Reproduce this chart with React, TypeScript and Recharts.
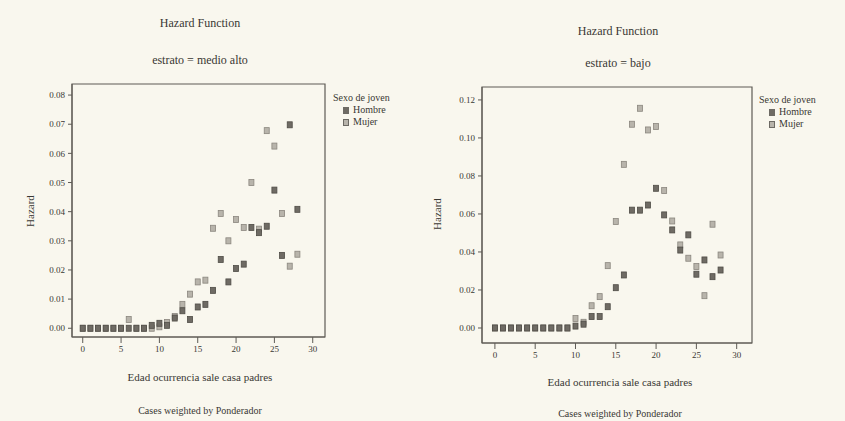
import React from "react";
import { ReferenceArea, Scatter, ScatterChart, XAxis, YAxis } from "recharts";

// Edad ocurrencia sale casa padres (x)
const AGES = [
  0, 1, 2, 3, 4, 5, 6, 7, 8, 9, 10, 11, 12, 13, 14, 15, 16, 17, 18, 19, 20,
  21, 22, 23, 24, 25, 26, 27, 28,
];
const X_TICKS = [0, 5, 10, 15, 20, 25, 30];

// estrato = medio alto
const MEDIO_ALTO_HOMBRE = [
  0, 0, 0, 0, 0, 0, 0, 0, 0, 0.001, 0.0017, 0.001, 0.0035, 0.006, 0.003,
  0.0073, 0.0082, 0.013, 0.0236, 0.0159, 0.0205, 0.022, 0.0346, 0.0328, 0.035,
  0.0474, 0.025, 0.0698, 0.0408,
];
const MEDIO_ALTO_MUJER = [
  0, 0, 0, 0, 0, 0, 0.003, 0, 0, 0, 0.0005, 0.002, 0.004, 0.0082, 0.0117,
  0.0159, 0.0165, 0.0343, 0.0394, 0.03, 0.0373, 0.0346, 0.05, 0.034, 0.0678,
  0.0625, 0.0394, 0.0213, 0.0254,
];
const MEDIO_ALTO_Y_TICKS = [0, 0.01, 0.02, 0.03, 0.04, 0.05, 0.06, 0.07, 0.08];

// estrato = bajo
const BAJO_HOMBRE = [
  0, 0, 0, 0, 0, 0, 0, 0, 0, 0, 0.001, 0.002, 0.006, 0.006, 0.0112, 0.0212,
  0.0279, 0.062, 0.062, 0.0647, 0.0735, 0.0595, 0.0516, 0.041, 0.049, 0.0283,
  0.0358, 0.027, 0.0305,
];
const BAJO_MUJER = [
  0, 0, 0, 0, 0, 0, 0, 0, 0, 0, 0.005, 0.003, 0.0117, 0.0165, 0.0328, 0.056,
  0.0861, 0.1072, 0.1156, 0.1042, 0.106, 0.0723, 0.0563, 0.0437, 0.0367,
  0.0323, 0.017, 0.0546, 0.0384,
];
const BAJO_Y_TICKS = [0, 0.02, 0.04, 0.06, 0.08, 0.1, 0.12];

const FONT = '"Liberation Serif", "DejaVu Serif", serif';
const INK = "#3a3834";
const PAPER = "#f9f7ee";
const HOMBRE_FILL = "#6f6b64";
const MUJER_FILL = "#b8b4ab";

function rows(values: number[]) {
  return AGES.map((age, i) => ({ age, hazard: values[i] }));
}

/** Small square marker, like the scanned SPSS output. */
function makeSquare(fill: string, stroke: string) {
  return function Square(props: { cx?: number; cy?: number }) {
    const { cx = 0, cy = 0 } = props;
    return (
      <rect x={cx - 2.5} y={cy - 3} width={5} height={6} fill={fill} stroke={stroke} strokeWidth={0.8} />
    );
  };
}

/** Legend block: "Sexo de joven" with the two marker styles. */
function SexoLegend(props: { left: number; top: number }) {
  const item = (label: string, fill: string) => (
    <div style={{ display: "flex", alignItems: "center", marginLeft: 10, height: 12 }}>
      <span
        style={{
          width: 4,
          height: 5,
          background: fill,
          border: "1px solid #6d6a64",
          marginRight: 4,
        }}
      />
      {label}
    </div>
  );
  return (
    <div
      style={{
        position: "absolute",
        left: props.left,
        top: props.top,
        fontFamily: FONT,
        fontSize: 10,
        color: INK,
        lineHeight: "12px",
        whiteSpace: "nowrap",
      }}
    >
      <div>Sexo de joven</div>
      {item("Hombre", HOMBRE_FILL)}
      {item("Mujer", MUJER_FILL)}
    </div>
  );
}

interface PanelProps {
  left: number;
  width: number;
  margin: { top: number; right: number; bottom: number; left: number };
  xDomain: [number, number];
  yDomain: [number, number];
  yTicks: number[];
  hombre: number[];
  mujer: number[];
}

function HazardPanel(p: PanelProps) {
  const tickStyle = { fontSize: 9, fill: INK, fontFamily: FONT };
  const HombreSquare = makeSquare(HOMBRE_FILL, "#4f4c46");
  const MujerSquare = makeSquare(MUJER_FILL, "#8a867e");
  return (
    <div style={{ position: "absolute", left: p.left, top: 0 }}>
      <ScatterChart width={p.width} height={421} margin={p.margin}>
        <XAxis
          type="number"
          dataKey="age"
          domain={p.xDomain}
          ticks={X_TICKS}
          allowDataOverflow
          height={20}
          tickSize={6}
          tickMargin={3}
          tick={tickStyle}
          stroke="#5e5b55"
        />
        <YAxis
          type="number"
          dataKey="hazard"
          domain={p.yDomain}
          ticks={p.yTicks}
          allowDataOverflow
          width={50}
          tickSize={4}
          tickMargin={3}
          tick={tickStyle}
          tickFormatter={(v: number) => v.toFixed(2)}
          stroke="#5e5b55"
        />
        <ReferenceArea
          x1={p.xDomain[0]}
          x2={p.xDomain[1]}
          y1={p.yDomain[0]}
          y2={p.yDomain[1]}
          fill="none"
          stroke="#5e5b55"
          strokeWidth={1.2}
        />
        <Scatter
          name="Mujer"
          data={rows(p.mujer)}
          shape={<MujerSquare />}
          fill={MUJER_FILL}
          isAnimationActive={false}
        />
        <Scatter
          name="Hombre"
          data={rows(p.hombre)}
          shape={<HombreSquare />}
          fill={HOMBRE_FILL}
          isAnimationActive={false}
        />
      </ScatterChart>
    </div>
  );
}

function Label(props: { x: number; y: number; text: string; size?: number; rotate?: boolean }) {
  return (
    <div
      style={{
        position: "absolute",
        left: props.x,
        top: props.y,
        transform: `translate(-50%, -50%)${props.rotate ? " rotate(-90deg)" : ""}`,
        whiteSpace: "nowrap",
        fontFamily: FONT,
        fontSize: props.size ?? 11,
        color: INK,
      }}
    >
      {props.text}
    </div>
  );
}

export default function App() {
  return (
    <div
      style={{
        position: "absolute",
        left: 0,
        top: 0,
        width: 845,
        height: 421,
        background: PAPER,
        overflow: "hidden",
      }}
    >
      <HazardPanel
        left={0}
        width={420}
        margin={{ top: 84, right: 95, bottom: 64, left: 22 }}
        xDomain={[-1.4, 31.6]}
        yDomain={[-0.003, 0.0838]}
        yTicks={MEDIO_ALTO_Y_TICKS}
        hombre={MEDIO_ALTO_HOMBRE}
        mujer={MEDIO_ALTO_MUJER}
      />
      <HazardPanel
        left={420}
        width={425}
        margin={{ top: 87, right: 93, bottom: 58, left: 12 }}
        xDomain={[-1.6, 31.9]}
        yDomain={[-0.0079, 0.1268]}
        yTicks={BAJO_Y_TICKS}
        hombre={BAJO_HOMBRE}
        mujer={BAJO_MUJER}
      />
      <SexoLegend left={333} top={92} />
      <SexoLegend left={759} top={94} />

      <Label x={200} y={23} text="Hazard Function" size={12} />
      <Label x={200} y={60} text="estrato = medio alto" size={12} />
      <Label x={30} y={211} text="Hazard" rotate />
      <Label x={200} y={377} text="Edad ocurrencia sale casa padres" />
      <Label x={200} y={410} text="Cases weighted by Ponderador" size={10} />

      <Label x={618} y={31} text="Hazard Function" size={12} />
      <Label x={618} y={63} text="estrato = bajo" size={12} />
      <Label x={437} y={214} text="Hazard" rotate />
      <Label x={620} y={382} text="Edad ocurrencia sale casa padres" />
      <Label x={620} y={413} text="Cases weighted by Ponderador" size={10} />
    </div>
  );
}
